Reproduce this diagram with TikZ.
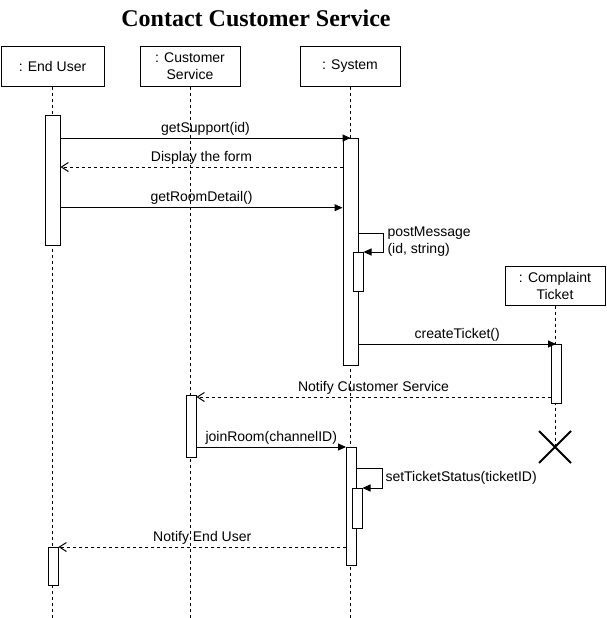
\documentclass[tikz,border=0pt]{standalone}
\usepackage{fontspec}
\setmainfont{Liberation Sans}
\newfontfamily\titlefont{Liberation Serif}
\usetikzlibrary{arrows.meta,shapes.misc,positioning}

\begin{document}
\begin{tikzpicture}[
        x=1pt,y=-1pt,
        line width=1pt,
        font=\fontsize{14}{17}\selectfont,
        lifebox/.style={draw,minimum width=100pt,minimum height=39pt,align=center,inner sep=1pt},
        bar/.style={draw,fill=white,minimum width=10pt,inner sep=0pt,anchor=north},
        life/.style={dash pattern=on 3pt off 3pt},
        call/.style={-{Triangle[length=8pt,width=7pt]}},
        reply/.style={dash pattern=on 3pt off 3pt,-{Straight Barb[length=7pt,width=9pt]}},
        lbl/.style={above,inner sep=2.5pt}
    ]
    \useasboundingbox (0,0) rectangle (606,618);

    \node [font=\titlefont\bfseries\fontsize{24}{28}\selectfont] (title) at (256,18) {Contact Customer Service};

    % participants
    \node [lifebox,minimum width=103pt] (eu)  at (52.5,66.5) {: End User};
    \node [lifebox] (cs)  at (190,66.5)  {: Customer\\Service};
    \node [lifebox] (sys) at (350,66.5)  {: System};
    \node [lifebox] (ct)  at (555,285.5) {: Complaint\\Ticket};
    \node [draw,cross out,minimum size=30pt,line width=2pt] (ctend) at (555,447) {};

    \coordinate (bottom) at (0,618);
    \draw [life] (eu)  -- (eu |- bottom);
    \draw [life] (cs)  -- (cs |- bottom);
    \draw [life] (sys) -- (sys |- bottom);
    \draw [life] (ct)  -- (ctend.center);

    % activations
    \node [bar,minimum width=15pt,minimum height=130pt] (eu1)  at (52.5,115)  {};
    \node [bar,minimum height=38pt]                     (eu2)  at (53,547)    {};
    \node [bar,minimum height=62pt]                     (cs1)  at (191,395)   {};
    \node [bar,minimum width=15pt,minimum height=227pt] (sys1) at (350.5,138) {};
    \node [bar,minimum height=39pt]                     (sys1a) at (358,252)  {};
    \node [bar,minimum height=118pt]                    (sys2) at (351.5,447) {};
    \node [bar,minimum height=40pt]                     (sys2a) at (357,488)  {};
    \node [bar,minimum height=59pt]                     (ct1)  at (556,344)   {};

    % messages
    \coordinate (m2) at (0,167);
    \coordinate (m3) at (0,207.7);
    \coordinate (m5) at (0,397);
    \coordinate (loop1) at (383,233);
    \coordinate (loop2) at (382,468);

    \draw [call]  (eu1.east |- sys1.north) -- node[lbl] {getSupport(id)} (sys1.north);
    \draw [reply] (sys1.west |- m2) -- node[lbl] {Display the form} (eu1.east |- m2);
    \draw [call]  (eu1.east |- m3) -- node[lbl] {getRoomDetail()} (sys1.west |- m3);
    \draw [call]  (sys1.east |- loop1) -- (loop1) |- (sys1a.north east);
    \node [anchor=west,align=left,inner sep=1pt] (pmtext) at (386,241.5) {postMessage\\(id, string)};
    \draw [call]  (sys1.east |- ct1.north) -- node[lbl] {createTicket()} (ct1.north);
    \draw [reply] (ct1.west |- m5) -- node[lbl] {Notify Customer Service} (cs1.east |- m5);
    \draw [call]  (cs1.east |- sys2.north) -- node[lbl] {joinRoom(channelID)} (sys2.north west);
    \draw [call]  (sys2.east |- loop2) -- (loop2) |- (sys2a.north east);
    \node [anchor=west,inner sep=1pt] (sttext) at (384,478) {setTicketStatus(ticketID)};
    \draw [reply] (sys2.west |- eu2.north) -- node[lbl] {Notify End User} (eu2.north east);
\end{tikzpicture}
\end{document}
